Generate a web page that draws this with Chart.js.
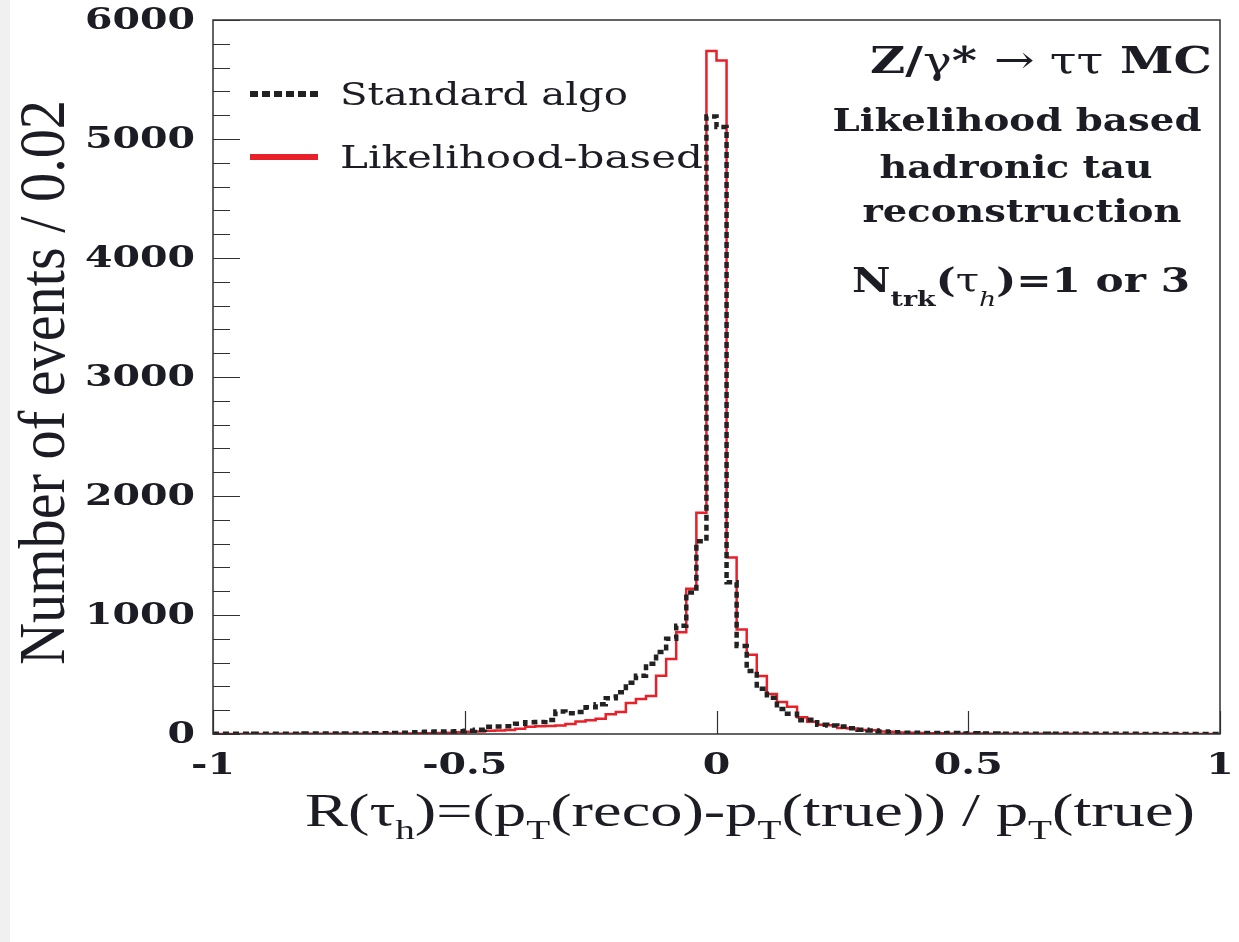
<!DOCTYPE html>
<html>
<head>
<meta charset="utf-8">
<script src="https://cdn.jsdelivr.net/npm/chart.js@4.4.1/dist/chart.umd.min.js"></script>
<style>
  html, body { margin: 0; padding: 0; background: #fff; }
  #wrap { position: relative; width: 1239px; height: 942px; }
</style>
</head>
<body>
<div id="wrap"><canvas id="myChart"></canvas></div>
<script>
// 100 bins of width 0.02 from -1 to 1
const binStart = -1;
const binWidth = 0.02;

// Standard algo (black dashed)
const standardAlgo = [
    2, 2, 2, 2, 3, 3, 3, 3, 3, 4,
    4, 4, 4, 5, 5, 5, 6, 6, 8, 10,
    14, 18, 20, 22, 24, 28, 36, 60, 64, 66,
    86, 98, 100, 118, 190, 175, 185, 224, 250, 300,
    350, 430, 490, 590, 690, 800, 910, 1190, 1620, 5190,
    5100, 1275, 740, 530, 380, 305, 210, 170, 115, 120,
    78, 72, 62, 48, 35, 30, 20, 15, 10, 10,
    8, 8, 6, 8, 5, 6, 4, 4, 3, 3,
    3, 3, 3, 2, 2, 2, 2, 2, 2, 2,
    2, 2, 1, 1, 1, 1, 1, 1, 1, 1
];

// Likelihood-based (red)
const likelihoodBased = [
    1, 1, 1, 1, 1, 1, 2, 2, 2, 2,
    2, 2, 2, 3, 3, 3, 3, 4, 4, 5,
    6, 6, 8, 10, 14, 18, 20, 28, 30, 34,
    45, 60, 65, 68, 72, 85, 105, 115, 128, 165,
    185, 260, 295, 320, 490, 630, 855, 1220, 1860, 5740,
    5660, 1483, 878, 665, 487, 336, 268, 230, 140, 103,
    78, 74, 50, 46, 34, 32, 22, 18, 12, 10,
    8, 6, 6, 5, 5, 4, 4, 3, 3, 3,
    3, 2, 2, 2, 2, 2, 2, 1, 1, 1,
    1, 1, 1, 1, 1, 1, 1, 1, 1, 1
];

const yTicks = [0, 1000, 2000, 3000, 4000, 5000, 6000];
const yMinorStep = 200;
const xTicks = [-1, -0.5, 0, 0.5, 1];
const xTickLabels = ["-1", "-0.5", "0", "0.5", "1"];
const seriesNames = ["Standard algo", "Likelihood-based"];

const textColor = "#1c1c24";
const redColor = "#e8202a";
const blackColor = "#222222";

// bin low edges + closing edge, for a stepped line
function toSteps(values) {
    const pts = values.map((v, i) => ({ x: binStart + i * binWidth, y: v }));
    pts.push({ x: binStart + values.length * binWidth, y: values[values.length - 1] });
    return pts;
}

// draw text segments stretched horizontally to a target width
function drawFitted(ctx, segs, x, y, width, align, sy) {
    let natural = 0;
    segs.forEach(s => { ctx.font = s.font; s.w = ctx.measureText(s.t).width; natural += s.w; });
    const sx = width / natural;
    let start = x;
    if (align === "right") start = x - width;
    if (align === "center") start = x - width / 2;
    ctx.save();
    ctx.translate(start, y);
    ctx.scale(sx, sy || 1);
    ctx.textAlign = "left";
    ctx.textBaseline = "alphabetic";
    let cx = 0;
    segs.forEach(s => {
        ctx.font = s.font;
        ctx.fillText(s.t, cx, s.dy || 0);
        cx += s.w;
    });
    ctx.restore();
}

function drawScaled(ctx, text, x, y, sx, align) {
    ctx.save();
    ctx.translate(x, y);
    ctx.scale(sx, 1);
    ctx.textAlign = align;
    ctx.textBaseline = "middle";
    ctx.fillText(text, 0, 0);
    ctx.restore();
}

const rootStyle = {
    id: "rootStyle",
    beforeDraw(chart) {
        const ctx = chart.ctx;
        ctx.save();
        ctx.fillStyle = "#ffffff";
        ctx.fillRect(0, 0, chart.width, chart.height);
        ctx.fillStyle = "#f0f0f0";
        ctx.fillRect(0, 0, 10, chart.height);
        ctx.restore();
    },
    afterDatasetsDraw(chart) {
        const ctx = chart.ctx;
        const a = chart.chartArea;
        const xs = chart.scales.x;
        const ys = chart.scales.y;
        ctx.save();
        ctx.strokeStyle = "#303030";
        ctx.lineWidth = 1.5;
        ctx.strokeRect(a.left, a.top, a.right - a.left, a.bottom - a.top);

        // y ticks, inside the frame
        ctx.lineWidth = 1.2;
        ctx.beginPath();
        for (let v = 0; v <= ys.max; v += yMinorStep) {
            const py = Math.round(ys.getPixelForValue(v)) + 0.5;
            const len = v % 1000 === 0 ? 27 : 17;
            ctx.moveTo(a.left, py);
            ctx.lineTo(a.left + len, py);
        }
        // x ticks
        xTicks.forEach(v => {
            const px = Math.round(xs.getPixelForValue(v)) + 0.5;
            ctx.moveTo(px, a.bottom);
            ctx.lineTo(px, a.bottom - 23);
        });
        ctx.stroke();
        ctx.restore();
    },
    afterDraw(chart) {
        const ctx = chart.ctx;
        const xs = chart.scales.x;
        const ys = chart.scales.y;
        ctx.save();
        ctx.fillStyle = textColor;

        // tick labels
        ctx.font = 'bold 30px "DejaVu Serif"';
        const tickSx = 110 / ctx.measureText("6000").width;
        yTicks.forEach(v => {
            drawScaled(ctx, String(v), 195, ys.getPixelForValue(v) + 1, tickSx, "right");
        });
        xTicks.forEach((v, i) => {
            drawScaled(ctx, xTickLabels[i], xs.getPixelForValue(v), 766, tickSx, "center");
        });

        // y title (rotated)
        ctx.save();
        ctx.translate(64, 665);
        ctx.rotate(-Math.PI / 2);
        drawFitted(ctx, [{ t: "Number of events / 0.02", font: '50px "Liberation Serif"' }], 0, 0, 565, "left", 1.3);
        ctx.restore();

        // x title with subscripts
        const xf = '46px "Liberation Serif"';
        const xsub = '28px "Liberation Serif"';
        drawFitted(ctx, [
            { t: "R(τ", font: xf },
            { t: "h", font: xsub, dy: 13 },
            { t: ")=(p", font: xf },
            { t: "T", font: xsub, dy: 13 },
            { t: "(reco)-p", font: xf },
            { t: "T", font: xsub, dy: 13 },
            { t: "(true)) / p", font: xf },
            { t: "T", font: xsub, dy: 13 },
            { t: "(true)", font: xf }
        ], 305, 826, 890, "left");

        // legend
        ctx.save();
        ctx.lineWidth = 6;
        ctx.strokeStyle = blackColor;
        ctx.setLineDash([8, 4]);
        ctx.beginPath();
        ctx.moveTo(250, 94);
        ctx.lineTo(318, 94);
        ctx.stroke();
        ctx.setLineDash([]);
        ctx.strokeStyle = redColor;
        ctx.beginPath();
        ctx.moveTo(250, 157);
        ctx.lineTo(318, 157);
        ctx.stroke();
        ctx.restore();
        const lf = '32px "DejaVu Serif"';
        drawFitted(ctx, [{ t: seriesNames[0], font: lf }], 340, 105, 288, "left");
        drawFitted(ctx, [{ t: seriesNames[1], font: lf }], 340, 168, 363, "left");

        // annotation
        const bf = 'bold 38px "DejaVu Serif"';
        const nf = '38px "DejaVu Serif"';
        drawFitted(ctx, [
            { t: "Z/", font: bf },
            { t: "γ", font: nf },
            { t: "* ", font: bf },
            { t: "→ ττ", font: nf },
            { t: " MC", font: bf }
        ], 1212, 73, 342, "right");
        const b2 = 'bold 32px "DejaVu Serif"';
        drawFitted(ctx, [{ t: "Likelihood based", font: b2 }], 1017, 131, 369, "center");
        drawFitted(ctx, [{ t: "hadronic tau", font: b2 }], 1016, 178, 273, "center");
        drawFitted(ctx, [{ t: "reconstruction", font: b2 }], 1022, 222, 319, "center");
        drawFitted(ctx, [
            { t: "N", font: 'bold 33px "DejaVu Serif"' },
            { t: "trk", font: 'bold 21px "DejaVu Serif"', dy: 14 },
            { t: "(", font: 'bold 33px "DejaVu Serif"' },
            { t: "τ", font: '33px "DejaVu Serif"' },
            { t: "h", font: 'italic 21px "DejaVu Serif"', dy: 14 },
            { t: ")=1 or 3", font: 'bold 33px "DejaVu Serif"' }
        ], 852, 292, 338, "left");
        ctx.restore();
    }
};

const ctx = document.getElementById("myChart").getContext("2d");
const myChart = new Chart(ctx, {
    type: "line",
    data: {
        datasets: [
            {
                label: seriesNames[0],
                data: toSteps(standardAlgo),
                stepped: "before",
                borderColor: blackColor,
                borderWidth: 4.5,
                borderDash: [6, 4],
                borderJoinStyle: "miter",
                pointRadius: 0,
                fill: false
            },
            {
                label: seriesNames[1],
                data: toSteps(likelihoodBased),
                stepped: "before",
                borderColor: redColor,
                borderWidth: 2.5,
                borderJoinStyle: "miter",
                pointRadius: 0,
                fill: false
            }
        ]
    },
    options: {
        responsive: true,
        maintainAspectRatio: false,
        animation: false,
        layout: { padding: { left: 213, right: 19, top: 20, bottom: 208 } },
        plugins: {
            legend: { display: false },
            tooltip: { enabled: false }
        },
        scales: {
            x: { type: "linear", min: -1, max: 1, display: false },
            y: { min: 0, max: 6000, display: false }
        }
    },
    plugins: [rootStyle]
});
</script>
</body>
</html>
